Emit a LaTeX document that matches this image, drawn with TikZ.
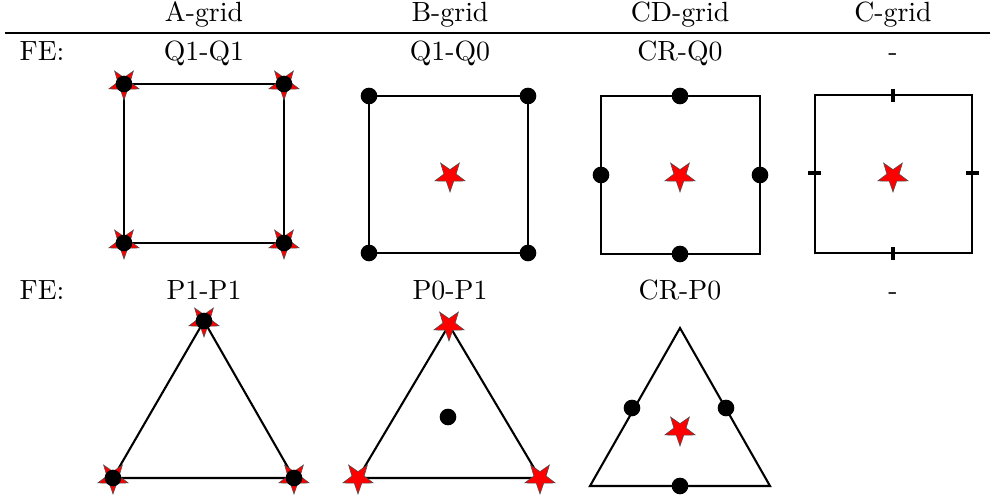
\documentclass[tikz,border=0pt]{standalone}
\usetikzlibrary{shapes.geometric}
\begin{document}
\begin{tikzpicture}[x=0.36pt,y=-0.36pt,
  edge/.style={line width=0.75pt},
  redstar/.style={star,star points=5,star point ratio=2.5,minimum size=11.5pt,inner sep=0pt,shape border rotate=180,fill=red,draw=black!70,line width=0.2pt},
  bdot/.style={circle,fill=black,minimum size=6pt,inner sep=0pt},
  tick/.style={line width=1.1pt},
  lbl/.style={inner sep=0pt,anchor=base}]
\useasboundingbox (0,0) rectangle (992,495);
% header
\node[lbl] (hA) at (204,22) {A-grid};
\node[lbl] (hB) at (450,22) {B-grid};
\node[lbl] (hCD) at (680,22) {CD-grid};
\node[lbl] (hC) at (893,22) {C-grid};
\coordinate (r1) at (5,33);
\coordinate (r2) at (990,33);
\draw[line width=0.4pt] (r1) -- (r2);
% row 1 labels
\node[lbl] (fe1) at (42,61) {FE:};
\node[lbl] (l1A) at (204,61) {Q1-Q1};
\node[lbl] (l1B) at (450,61) {Q1-Q0};
\node[lbl] (l1CD) at (680,61) {CR-Q0};
\node[lbl] (l1C) at (893,61) {-};
% row 2 labels
\node[lbl] (fe2) at (42,300) {FE:};
\node[lbl] (l2A) at (204,300) {P1-P1};
\node[lbl] (l2B) at (450,300) {P0-P1};
\node[lbl] (l2CD) at (680,300) {CR-P0};
\node[lbl] (l2C) at (893,300) {-};
% A square
\coordinate (a1) at (124,84); \coordinate (a2) at (284,84);
\coordinate (a3) at (284,243); \coordinate (a4) at (124,243);
\draw[edge] (a1) -- (a2) -- (a3) -- (a4) -- cycle;
\foreach \p in {a1,a2,a3,a4}{\node[redstar] at (\p) {}; \node[bdot] at (\p) {};}
% B square
\coordinate (b1) at (369,96); \coordinate (b2) at (528,96);
\coordinate (b3) at (528,253); \coordinate (b4) at (369,253);
\draw[edge] (b1) -- (b2) -- (b3) -- (b4) -- cycle;
\foreach \p in {b1,b2,b3,b4}{\node[bdot] at (\p) {};}
\node[redstar] (bs) at (450,176) {};
% CD square
\coordinate (c1) at (601,96); \coordinate (c2) at (760,96);
\coordinate (c3) at (760,254); \coordinate (c4) at (601,254);
\draw[edge] (c1) -- (c2) -- (c3) -- (c4) -- cycle;
\node[bdot] (cm1) at (680,96) {};
\node[bdot] (cm2) at (760,175) {};
\node[bdot] (cm3) at (680,254) {};
\node[bdot] (cm4) at (601,175) {};
\node[redstar] (cs) at (680,176) {};
% C square
\coordinate (d1) at (815,95); \coordinate (d2) at (972,95);
\coordinate (d3) at (972,253); \coordinate (d4) at (815,253);
\draw[edge] (d1) -- (d2) -- (d3) -- (d4) -- cycle;
\draw[tick] (893,89) -- (893,102);
\draw[tick] (893,247) -- (893,260);
\draw[tick] (808,173) -- (821,173);
\draw[tick] (966,173) -- (979,173);
\node[redstar] (ds) at (893,176) {};
% A triangle
\coordinate (ta1) at (204,321); \coordinate (ta2) at (294,478); \coordinate (ta3) at (113,478);
\draw[edge] (ta1) -- (ta2) -- (ta3) -- cycle;
\foreach \p in {ta1,ta2,ta3}{\node[redstar] at (\p) {}; \node[bdot] at (\p) {};}
% B triangle
\coordinate (tb1) at (449,325); \coordinate (tb2) at (540,478); \coordinate (tb3) at (358,478);
\draw[edge] (tb1) -- (tb2) -- (tb3) -- cycle;
\foreach \p in {tb1,tb2,tb3}{\node[redstar] at (\p) {};}
\node[bdot] (tbd) at (448,417) {};
% CD triangle
\coordinate (tc1) at (680,328); \coordinate (tc2) at (770,486); \coordinate (tc3) at (590,486);
\draw[edge] (tc1) -- (tc2) -- (tc3) -- cycle;
\node[bdot] (tcm1) at (632,408) {};
\node[bdot] (tcm2) at (726,408) {};
\node[bdot] (tcm3) at (680,486) {};
\node[redstar] (tcs) at (680,430) {};
\end{tikzpicture}
\end{document}
